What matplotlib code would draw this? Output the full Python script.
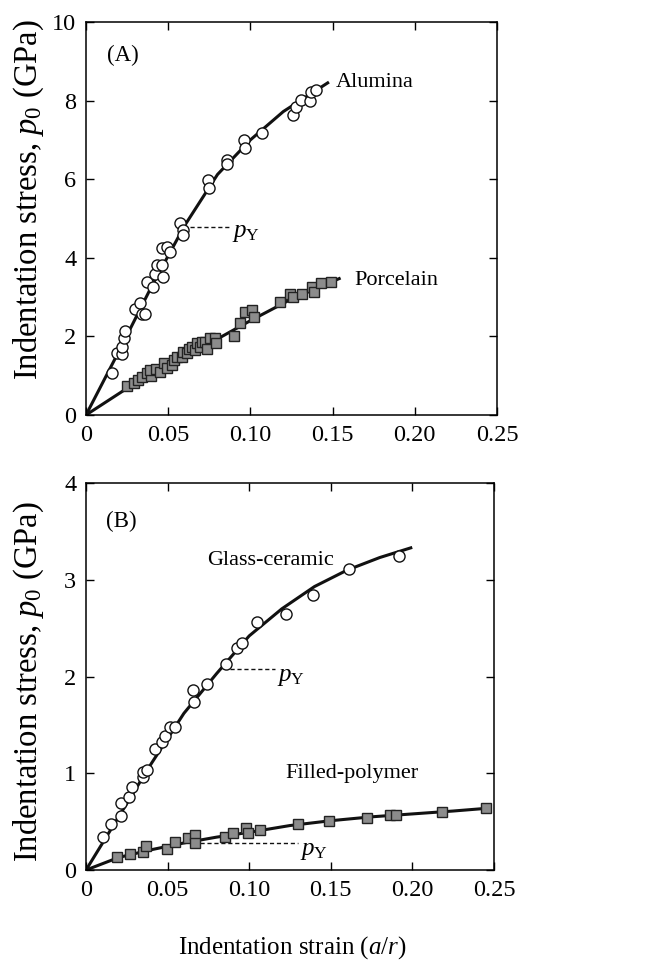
import numpy as np
import matplotlib
matplotlib.use('Agg')
import matplotlib.pyplot as plt

plt.rcParams['font.family'] = ['Liberation Serif', 'DejaVu Serif']
plt.rcParams['mathtext.fontset'] = 'custom'
plt.rcParams['mathtext.rm'] = 'Liberation Serif'
plt.rcParams['mathtext.it'] = 'Liberation Serif:italic'

# --- Panel A: Alumina / Porcelain ---
alumina_x = [0.016, 0.019, 0.022, 0.022, 0.023, 0.024, 0.030, 0.033, 0.034, 0.036,
             0.037, 0.041, 0.042, 0.043, 0.046, 0.047, 0.046, 0.049, 0.051, 0.057,
             0.059, 0.059, 0.074, 0.075, 0.086, 0.086, 0.096, 0.097, 0.107, 0.126,
             0.128, 0.131, 0.136, 0.137, 0.140]
alumina_y = [1.06, 1.57, 1.54, 1.74, 1.95, 2.14, 2.69, 2.84, 2.56, 2.58,
             3.39, 3.25, 3.58, 3.81, 3.81, 3.52, 4.24, 4.28, 4.15, 4.89,
             4.70, 4.58, 5.97, 5.78, 6.48, 6.38, 7.00, 6.80, 7.18, 7.63,
             7.84, 8.01, 8.00, 8.22, 8.26]
alumina_fit_x = [0, 0.02, 0.04, 0.06, 0.08, 0.10, 0.12, 0.147]
alumina_fit_y = [0, 1.62, 3.28, 4.82, 6.12, 7.00, 7.72, 8.45]

porcelain_x = [0.0248, 0.0289, 0.0319, 0.0339, 0.037, 0.0394, 0.039, 0.0427, 0.0451, 0.0472,
               0.0492, 0.0522, 0.0533, 0.0553, 0.0583, 0.0589, 0.0614, 0.0624, 0.0644, 0.0665,
               0.0675, 0.0695, 0.0705, 0.0726, 0.0736, 0.0756, 0.0787, 0.0793, 0.0898, 0.0939,
               0.0970, 0.101, 0.102, 0.118, 0.124, 0.126, 0.1315, 0.1376, 0.1386, 0.1427, 0.1488]
porcelain_y = [0.75, 0.81, 0.89, 0.97, 1.08, 0.99, 1.14, 1.16, 1.10, 1.31,
               1.20, 1.27, 1.40, 1.48, 1.48, 1.61, 1.57, 1.69, 1.74, 1.65,
               1.82, 1.74, 1.86, 1.86, 1.69, 1.95, 1.95, 1.82, 2.01, 2.33,
               2.63, 2.67, 2.50, 2.88, 3.09, 3.01, 3.09, 3.26, 3.14, 3.35, 3.39]
porcelain_fit_x = [0, 0.025, 0.05, 0.075, 0.10, 0.125, 0.154]
porcelain_fit_y = [0, 0.68, 1.25, 1.82, 2.40, 2.95, 3.47]

# --- Panel B: Glass-ceramic / Filled-polymer ---
glass_x = [0.0106, 0.0151, 0.0212, 0.0212, 0.0263, 0.0284, 0.0347, 0.0351, 0.0371, 0.0422,
           0.0463, 0.0484, 0.0514, 0.0545, 0.0653, 0.0661, 0.0739, 0.0857, 0.0927, 0.0957,
           0.1045, 0.1224, 0.139, 0.161, 0.192]
glass_y = [0.34, 0.48, 0.56, 0.69, 0.75, 0.86, 0.96, 1.01, 1.03, 1.25,
           1.32, 1.39, 1.48, 1.48, 1.86, 1.74, 1.92, 2.13, 2.30, 2.35,
           2.56, 2.65, 2.84, 3.11, 3.25]
glass_fit_x = [0, 0.02, 0.04, 0.06, 0.08, 0.10, 0.12, 0.14, 0.16, 0.18, 0.199]
glass_fit_y = [0, 0.55, 1.10, 1.62, 2.03, 2.42, 2.70, 2.93, 3.10, 3.23, 3.33]

polymer_x = [0.0188, 0.027, 0.035, 0.037, 0.0494, 0.0545, 0.0627, 0.0667, 0.0667, 0.0851,
             0.090, 0.098, 0.0994, 0.1065, 0.130, 0.149, 0.172, 0.186, 0.190, 0.218, 0.245]
polymer_y = [0.137, 0.17, 0.19, 0.25, 0.22, 0.29, 0.33, 0.36, 0.28, 0.34,
             0.38, 0.43, 0.38, 0.41, 0.48, 0.505, 0.54, 0.57, 0.57, 0.60, 0.64]
polymer_fit_x = [0, 0.02, 0.04, 0.06, 0.08, 0.10, 0.125, 0.15, 0.175, 0.20, 0.225, 0.247]
polymer_fit_y = [0, 0.13, 0.21, 0.28, 0.34, 0.39, 0.46, 0.51, 0.55, 0.58, 0.61, 0.64]

xticks = [0, 0.05, 0.10, 0.15, 0.20, 0.25]
xticklabels = ['0', '0.05', '0.10', '0.15', '0.20', '0.25']

fig = plt.figure(figsize=(6.55, 9.68), dpi=100)
axA = fig.add_axes([0.1313, 0.5713, 0.6275, 0.406])
axB = fig.add_axes([0.1313, 0.1012, 0.6229, 0.3998])

circ = dict(linestyle='none', marker='o', ms=8, mfc='white', mec='#111111', mew=1.0, zorder=3)
sq = dict(linestyle='none', marker='s', ms=6.5, mfc='#8c8c8c', mec='#222222', mew=1.0, zorder=3)
fit = dict(color='#111111', lw=2.2, zorder=2)

def style(ax, ymax, yticks, label_y):
    ax.set_xlim(0, 0.25)
    ax.set_ylim(0, ymax)
    ax.set_xticks(xticks)
    ax.set_xticklabels(xticklabels)
    ax.set_yticks(yticks)
    ax.set_yticklabels([str(t) for t in yticks])
    ax.tick_params(direction='in', top=True, right=True, length=6, width=1.0,
                   labelsize=17.5, pad=7)
    for s in ax.spines.values():
        s.set_linewidth(1.1)
    ax.set_ylabel(r'Indentation stress, $p_0$ (GPa)', fontsize=23.5)
    ax.yaxis.set_label_coords(-0.097, label_y)

# Panel A
axA.plot(alumina_fit_x, alumina_fit_y, **fit)
axA.plot(porcelain_fit_x, porcelain_fit_y, **fit)
axA.plot(alumina_x, alumina_y, **circ)
axA.plot(porcelain_x, porcelain_y, **sq)
axA.plot([0.0634, 0.0878], [4.79, 4.79], ls='--', color='#111111', lw=1.0, dashes=(3, 2))
axA.text(0.089, 4.62, r'$p_\mathrm{Y}$', fontsize=18, va='center', ha='left')
axA.text(0.152, 8.47, 'Alumina', fontsize=16, va='center', ha='left')
axA.text(0.163, 3.43, 'Porcelain', fontsize=16, va='center', ha='left')
axA.text(0.0126, 9.15, '(A)', fontsize=16.5, va='center', ha='left')
style(axA, 10, [0, 2, 4, 6, 8, 10], 0.547)

# Panel B
axB.plot(glass_fit_x, glass_fit_y, **fit)
axB.plot(polymer_fit_x, polymer_fit_y, **fit)
axB.plot(glass_x, glass_y, **circ)
axB.plot(polymer_x, polymer_y, **sq)
axB.plot([0.088, 0.116], [2.08, 2.08], ls='--', color='#111111', lw=1.0, dashes=(3, 2))
axB.text(0.117, 2.0, r'$p_\mathrm{Y}$', fontsize=18, va='center', ha='left')
axB.plot([0.0698, 0.130], [0.275, 0.275], ls='--', color='#111111', lw=1.0, dashes=(3, 2))
axB.text(0.131, 0.2, r'$p_\mathrm{Y}$', fontsize=18, va='center', ha='left')
axB.text(0.074, 3.2, 'Glass-ceramic', fontsize=16, va='center', ha='left')
axB.text(0.122, 1.0, 'Filled-polymer', fontsize=16, va='center', ha='left')
axB.text(0.0122, 3.6, '(B)', fontsize=16.5, va='center', ha='left')
style(axB, 4, [0, 1, 2, 3, 4], 0.488)

fig.text(0.446, 0.021, r'Indentation strain ($a/r$)', fontsize=18, ha='center', va='center')

fig.savefig('out.png', dpi=100)
